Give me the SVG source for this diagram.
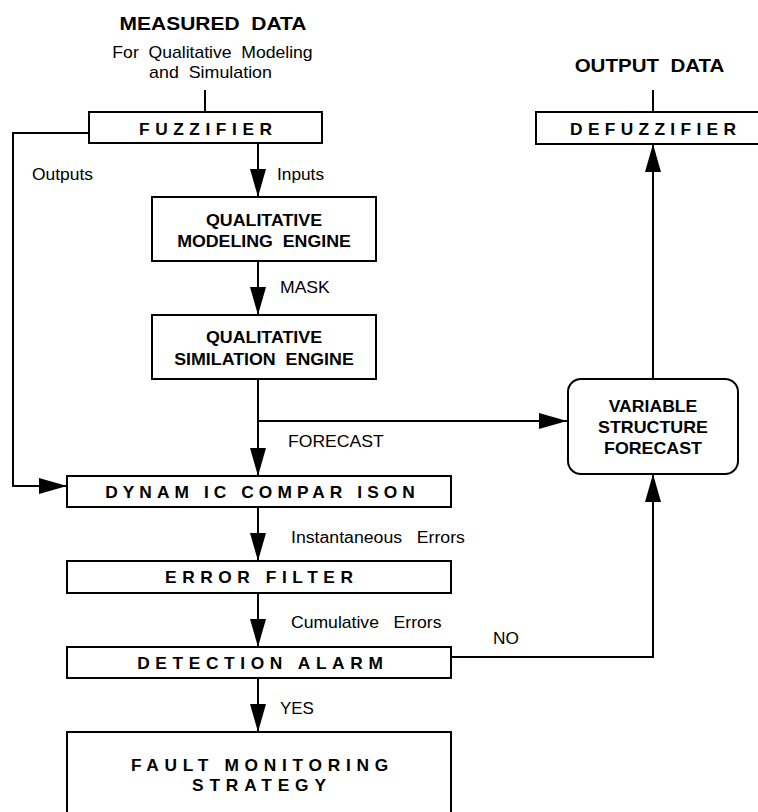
<svg xmlns="http://www.w3.org/2000/svg" width="758" height="812" viewBox="0 0 758 812">
  <style>
    text { font-family: "Liberation Sans", Arial, sans-serif; fill: #000; white-space: pre; }
    .title { font-size: 18.5px; font-weight: bold; }
    .lbl { font-size: 16px; }
    .hdr { font-size: 17px; font-weight: bold; }
    .sp { font-size: 16.5px; font-weight: bold; }
    .mid { text-anchor: middle; }
    .box { fill: #fff; stroke: #000; stroke-width: 2; }
    .wire { fill: none; stroke: #000; stroke-width: 2; }
  </style>
  <defs>
    <marker id="arrow" markerUnits="userSpaceOnUse" markerWidth="28" markerHeight="16" refX="28" refY="8" orient="auto">
      <path d="M0,0 L28,8 L0,16 z" fill="#000"/>
    </marker>
  </defs>

  <rect width="758" height="812" fill="#fff"/>

  <!-- headings -->
  <g id="measured-data">
    <text class="title mid" transform="translate(213,30) scale(1.134,1)">MEASURED  DATA</text>
    <text class="lbl mid" transform="translate(212.5,58) scale(1.10,1)">For  Qualitative  Modeling</text>
    <text class="lbl mid" transform="translate(210.5,78) scale(1.115,1)">and  Simulation</text>
  </g>
  <g id="output-data">
    <text class="title mid" transform="translate(649.5,72) scale(1.11,1)">OUTPUT  DATA</text>
  </g>

  <!-- connectors -->
  <g id="connectors">
    <path class="wire" d="M205,90 V112"/>
    <path class="wire" d="M653,90 V112"/>
    <path class="wire" d="M258,143 V197" marker-end="url(#arrow)"/>
    <path class="wire" d="M89,133 H13 V486 H67" marker-end="url(#arrow)"/>
    <path class="wire" d="M258,261 V315" marker-end="url(#arrow)"/>
    <path class="wire" d="M258,379 V476" marker-end="url(#arrow)"/>
    <path class="wire" d="M258,421 H567" marker-end="url(#arrow)"/>
    <path class="wire" d="M653,379 V144" marker-end="url(#arrow)"/>
    <path class="wire" d="M258,507 V561" marker-end="url(#arrow)"/>
    <path class="wire" d="M258,593 V647" marker-end="url(#arrow)"/>
    <path class="wire" d="M451,657 H653 V474" marker-end="url(#arrow)"/>
    <path class="wire" d="M258,678 V732" marker-end="url(#arrow)"/>

    <text class="lbl" transform="translate(32,180) scale(1.09,1)">Outputs</text>
    <text class="lbl" transform="translate(277,180) scale(1.08,1)">Inputs</text>
    <text class="lbl" transform="translate(280,293) scale(1.10,1)">MASK</text>
    <text class="lbl" transform="translate(288,447) scale(1.10,1)">FORECAST</text>
    <text class="lbl" transform="translate(291,543) scale(1.105,1)">Instantaneous   Errors</text>
    <text class="lbl" transform="translate(291,628) scale(1.10,1)">Cumulative   Errors</text>
    <text class="lbl" transform="translate(493,644) scale(1.08,1)">NO</text>
    <text class="lbl" transform="translate(280,714) scale(1.06,1)">YES</text>
  </g>

  <!-- nodes -->
  <g id="fuzzifier">
    <rect class="box" x="89" y="112" width="233" height="31"/>
    <text class="sp mid" transform="translate(205.5,135) scale(1.05,1)" textLength="126.7" lengthAdjust="spacing">FUZZIFIER</text>
  </g>

  <g id="defuzzifier">
    <rect class="box" x="536" y="112" width="240" height="32"/>
    <text class="sp mid" transform="translate(653,135) scale(1.05,1)" textLength="158" lengthAdjust="spacing">DEFUZZIFIER</text>
  </g>

  <g id="modeling-engine">
    <rect class="box" x="152" y="197" width="224" height="64"/>
    <text class="hdr mid" transform="translate(264,226) scale(1.048,1)">QUALITATIVE</text>
    <text class="hdr mid" transform="translate(264,247) scale(1.046,1)">MODELING  ENGINE</text>
  </g>

  <g id="simulation-engine">
    <rect class="box" x="152" y="315" width="224" height="64"/>
    <text class="hdr mid" transform="translate(264,343) scale(1.048,1)">QUALITATIVE</text>
    <text class="hdr mid" transform="translate(264,365) scale(1.047,1)">SIMILATION  ENGINE</text>
  </g>

  <g id="variable-structure-forecast">
    <rect class="box" x="568" y="379" width="170" height="95" rx="13" ry="13"/>
    <text class="hdr mid" transform="translate(653,412) scale(1.036,1)">VARIABLE</text>
    <text class="hdr mid" transform="translate(653,433) scale(1.048,1)">STRUCTURE</text>
    <text class="hdr mid" transform="translate(653,454) scale(1.048,1)">FORECAST</text>
  </g>

  <g id="dynamic-comparison">
    <rect class="box" x="67" y="476" width="384" height="31"/>
    <text class="sp mid" transform="translate(260,498) scale(1.05,1)" textLength="295" lengthAdjust="spacing">DYNAM IC COMPAR ISON</text>
  </g>

  <g id="error-filter">
    <rect class="box" x="67" y="561" width="384" height="32"/>
    <text class="sp mid" transform="translate(259,583) scale(1.05,1)" textLength="179" lengthAdjust="spacing">ERROR FILTER</text>
  </g>

  <g id="detection-alarm">
    <rect class="box" x="67" y="647" width="384" height="31"/>
    <text class="sp mid" transform="translate(260,669) scale(1.05,1)" textLength="234" lengthAdjust="spacing">DETECTION ALARM</text>
  </g>

  <g id="fault-monitoring-strategy">
    <rect class="box" x="67" y="732" width="384" height="100"/>
    <text class="sp mid" transform="translate(259.5,771) scale(1.05,1)" textLength="245" lengthAdjust="spacing">FAULT MONITORING</text>
    <text class="sp mid" transform="translate(259,791) scale(1.05,1)" textLength="127.6" lengthAdjust="spacing">STRATEGY</text>
  </g>
</svg>
